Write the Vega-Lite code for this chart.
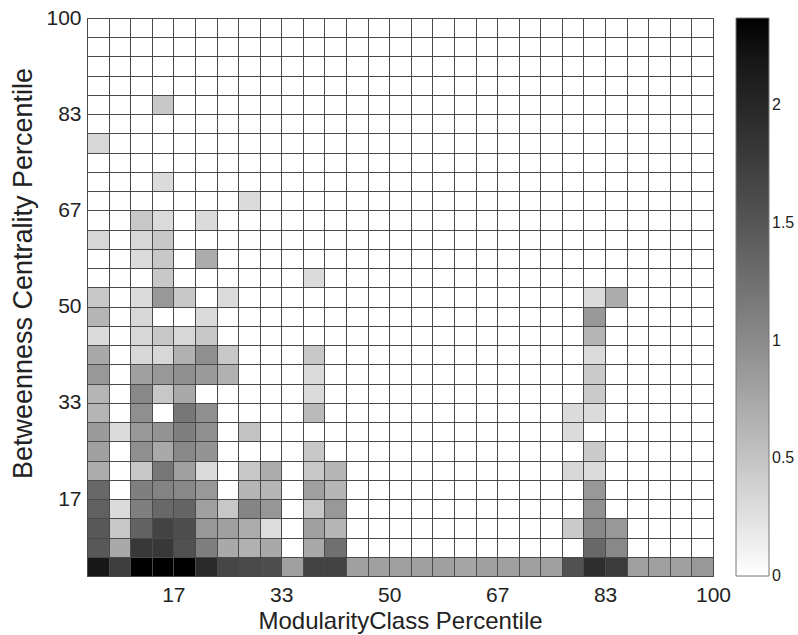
{
  "$schema": "https://vega.github.io/schema/vega-lite/v6.json",
  "width": 626,
  "height": 558,
  "autosize": {"type": "none"},
  "padding": {"left": 87, "top": 18, "right": 85, "bottom": 59},
  "background": "white",
  "config": {
    "font": "Liberation Sans",
    "view": {"stroke": "#555", "strokeWidth": 1},
    "axis": {"labelFont": "Liberation Sans", "titleFont": "Liberation Sans", "labelColor": "#222", "titleColor": "#222", "titleFontWeight": "normal"}
  },
  "data": {"values": [
    {"c":1,"r":1,"v":2.17},{"c":2,"r":1,"v":1.75},{"c":3,"r":1,"v":2.37},{"c":4,"r":1,"v":2.37},{"c":5,"r":1,"v":2.37},{"c":6,"r":1,"v":1.97},{"c":7,"r":1,"v":1.67},{"c":8,"r":1,"v":1.63},{"c":9,"r":1,"v":1.58},{"c":10,"r":1,"v":0.81},{"c":11,"r":1,"v":1.71},{"c":12,"r":1,"v":1.71},{"c":13,"r":1,"v":0.81},{"c":14,"r":1,"v":0.81},{"c":15,"r":1,"v":0.81},{"c":16,"r":1,"v":0.81},{"c":17,"r":1,"v":0.81},{"c":18,"r":1,"v":0.76},{"c":19,"r":1,"v":0.81},{"c":20,"r":1,"v":0.81},{"c":21,"r":1,"v":0.81},{"c":22,"r":1,"v":0.81},{"c":23,"r":1,"v":1.55},{"c":24,"r":1,"v":1.92},{"c":25,"r":1,"v":1.78},{"c":26,"r":1,"v":0.81},{"c":27,"r":1,"v":0.81},{"c":28,"r":1,"v":0.81},{"c":29,"r":1,"v":0.88},
    {"c":1,"r":2,"v":1.48},{"c":2,"r":2,"v":0.73},{"c":3,"r":2,"v":1.81},{"c":4,"r":2,"v":1.81},{"c":5,"r":2,"v":1.55},{"c":6,"r":2,"v":1.11},{"c":7,"r":2,"v":0.73},{"c":8,"r":2,"v":0.66},{"c":9,"r":2,"v":0.73},{"c":11,"r":2,"v":0.73},{"c":12,"r":2,"v":1.25},{"c":24,"r":2,"v":1.33},{"c":25,"r":2,"v":1.03},
    {"c":1,"r":3,"v":1.48},{"c":2,"r":3,"v":0.47},{"c":3,"r":3,"v":1.38},{"c":4,"r":3,"v":1.70},{"c":5,"r":3,"v":1.58},{"c":6,"r":3,"v":0.88},{"c":7,"r":3,"v":0.81},{"c":8,"r":3,"v":0.70},{"c":9,"r":3,"v":0.29},{"c":11,"r":3,"v":0.81},{"c":12,"r":3,"v":0.62},{"c":23,"r":3,"v":0.44},{"c":24,"r":3,"v":1.03},{"c":25,"r":3,"v":0.88},
    {"c":1,"r":4,"v":1.40},{"c":2,"r":4,"v":0.30},{"c":3,"r":4,"v":1.11},{"c":4,"r":4,"v":1.33},{"c":5,"r":4,"v":1.37},{"c":6,"r":4,"v":0.81},{"c":7,"r":4,"v":0.47},{"c":8,"r":4,"v":1.05},{"c":9,"r":4,"v":0.90},{"c":11,"r":4,"v":0.47},{"c":12,"r":4,"v":0.88},{"c":24,"r":4,"v":0.94},
    {"c":1,"r":5,"v":1.33},{"c":3,"r":5,"v":1.11},{"c":4,"r":5,"v":1.07},{"c":5,"r":5,"v":1.03},{"c":6,"r":5,"v":0.88},{"c":8,"r":5,"v":0.62},{"c":9,"r":5,"v":0.62},{"c":11,"r":5,"v":0.81},{"c":12,"r":5,"v":0.62},{"c":24,"r":5,"v":0.88},
    {"c":1,"r":6,"v":0.70},{"c":3,"r":6,"v":0.47},{"c":4,"r":6,"v":1.18},{"c":5,"r":6,"v":0.81},{"c":6,"r":6,"v":0.30},{"c":8,"r":6,"v":0.47},{"c":9,"r":6,"v":0.70},{"c":11,"r":6,"v":0.47},{"c":12,"r":6,"v":0.62},{"c":23,"r":6,"v":0.33},{"c":24,"r":6,"v":0.30},
    {"c":1,"r":7,"v":0.81},{"c":3,"r":7,"v":0.96},{"c":4,"r":7,"v":0.73},{"c":5,"r":7,"v":1.03},{"c":6,"r":7,"v":0.92},{"c":11,"r":7,"v":0.47},{"c":24,"r":7,"v":0.44},
    {"c":1,"r":8,"v":0.85},{"c":2,"r":8,"v":0.30},{"c":3,"r":8,"v":0.88},{"c":4,"r":8,"v":0.92},{"c":5,"r":8,"v":1.11},{"c":6,"r":8,"v":0.96},{"c":8,"r":8,"v":0.51},{"c":23,"r":8,"v":0.30},
    {"c":1,"r":9,"v":0.62},{"c":3,"r":9,"v":0.96},{"c":5,"r":9,"v":1.18},{"c":6,"r":9,"v":0.96},{"c":11,"r":9,"v":0.59},{"c":23,"r":9,"v":0.30},{"c":24,"r":9,"v":0.30},
    {"c":1,"r":10,"v":0.62},{"c":3,"r":10,"v":1.03},{"c":4,"r":10,"v":0.47},{"c":5,"r":10,"v":0.73},{"c":11,"r":10,"v":0.30},{"c":24,"r":10,"v":0.44},
    {"c":1,"r":11,"v":0.88},{"c":3,"r":11,"v":0.81},{"c":4,"r":11,"v":0.88},{"c":5,"r":11,"v":0.96},{"c":6,"r":11,"v":0.85},{"c":7,"r":11,"v":0.66},{"c":11,"r":11,"v":0.30},{"c":24,"r":11,"v":0.44},
    {"c":1,"r":12,"v":0.73},{"c":3,"r":12,"v":0.33},{"c":4,"r":12,"v":0.33},{"c":5,"r":12,"v":0.66},{"c":6,"r":12,"v":0.96},{"c":7,"r":12,"v":0.47},{"c":11,"r":12,"v":0.47},{"c":24,"r":12,"v":0.30},
    {"c":1,"r":13,"v":0.30},{"c":3,"r":13,"v":0.33},{"c":4,"r":13,"v":0.47},{"c":5,"r":13,"v":0.33},{"c":6,"r":13,"v":0.47},{"c":24,"r":13,"v":0.62},
    {"c":1,"r":14,"v":0.62},{"c":3,"r":14,"v":0.33},{"c":6,"r":14,"v":0.30},{"c":24,"r":14,"v":0.88},
    {"c":1,"r":15,"v":0.47},{"c":3,"r":15,"v":0.30},{"c":4,"r":15,"v":0.88},{"c":5,"r":15,"v":0.47},{"c":7,"r":15,"v":0.30},{"c":24,"r":15,"v":0.30},{"c":25,"r":15,"v":0.70},
    {"c":4,"r":16,"v":0.47},{"c":11,"r":16,"v":0.30},
    {"c":3,"r":17,"v":0.30},{"c":4,"r":17,"v":0.47},{"c":6,"r":17,"v":0.70},
    {"c":1,"r":18,"v":0.33},{"c":3,"r":18,"v":0.33},{"c":4,"r":18,"v":0.47},
    {"c":3,"r":19,"v":0.47},{"c":4,"r":19,"v":0.30},{"c":6,"r":19,"v":0.30},
    {"c":8,"r":20,"v":0.30},
    {"c":4,"r":21,"v":0.30},
    {"c":1,"r":23,"v":0.33},
    {"c":4,"r":25,"v":0.47}
  ]},
  "mark": {"type": "rect", "strokeWidth": 0},
  "encoding": {
    "x": {
      "field": "c", "type": "quantitative",
      "bin": {"binned": true, "step": 1},
      "scale": {"domain": [1, 30], "nice": false, "zero": false},
      "axis": {
        "values": [1,2,3,4,5,6,7,8,9,10,11,12,13,14,15,16,17,18,19,20,21,22,23,24,25,26,27,28,29,30],
        "labelExpr": "datum.value % 5 === 0 ? format(datum.value / 30 * 100, '.0f') : ''",
        "grid": true, "gridColor": "#4a4a4a", "gridWidth": 1, "gridOpacity": 1,
        "ticks": false, "domain": false, "zindex": 1,
        "labelFontSize": 21, "labelPadding": 8, "labelOverlap": false, "labelFlush": false, "labelBound": false,
        "title": "ModularityClass Percentile", "titleFontSize": 24, "titlePadding": 4
      }
    },
    "y": {
      "field": "r", "type": "quantitative",
      "bin": {"binned": true, "step": 1},
      "scale": {"domain": [1, 30], "nice": false, "zero": false},
      "axis": {
        "values": [1,2,3,4,5,6,7,8,9,10,11,12,13,14,15,16,17,18,19,20,21,22,23,24,25,26,27,28,29,30],
        "labelExpr": "datum.value % 5 === 0 ? format(datum.value / 30 * 100, '.0f') : ''",
        "grid": true, "gridColor": "#4a4a4a", "gridWidth": 1, "gridOpacity": 1,
        "ticks": false, "domain": false, "zindex": 1,
        "labelFontSize": 21, "labelPadding": 6, "labelOverlap": false, "labelFlush": false, "labelBound": false,
        "title": "Betweenness Centrality Percentile", "titleFontSize": 27, "titlePadding": 8, "titleY": 255
      }
    },
    "color": {
      "field": "v", "type": "quantitative",
      "scale": {"domain": [-0.0001, 2.37], "range": ["#ffffff", "#000000"], "nice": false, "zero": false},
      "legend": {
        "title": null, "orient": "right", "offset": 23, "padding": 0,
        "direction": "vertical",
        "gradientLength": 558, "gradientThickness": 33,
        "gradientStrokeColor": "#777", "gradientStrokeWidth": 1,
        "values": [0, 0.5, 1, 1.5, 2], "format": "~g",
        "labelFontSize": 16, "labelOffset": 3, "labelColor": "#222", "labelFont": "Liberation Sans", "labelOverlap": false, "labelBaseline": "middle"
      }
    }
  }
}
